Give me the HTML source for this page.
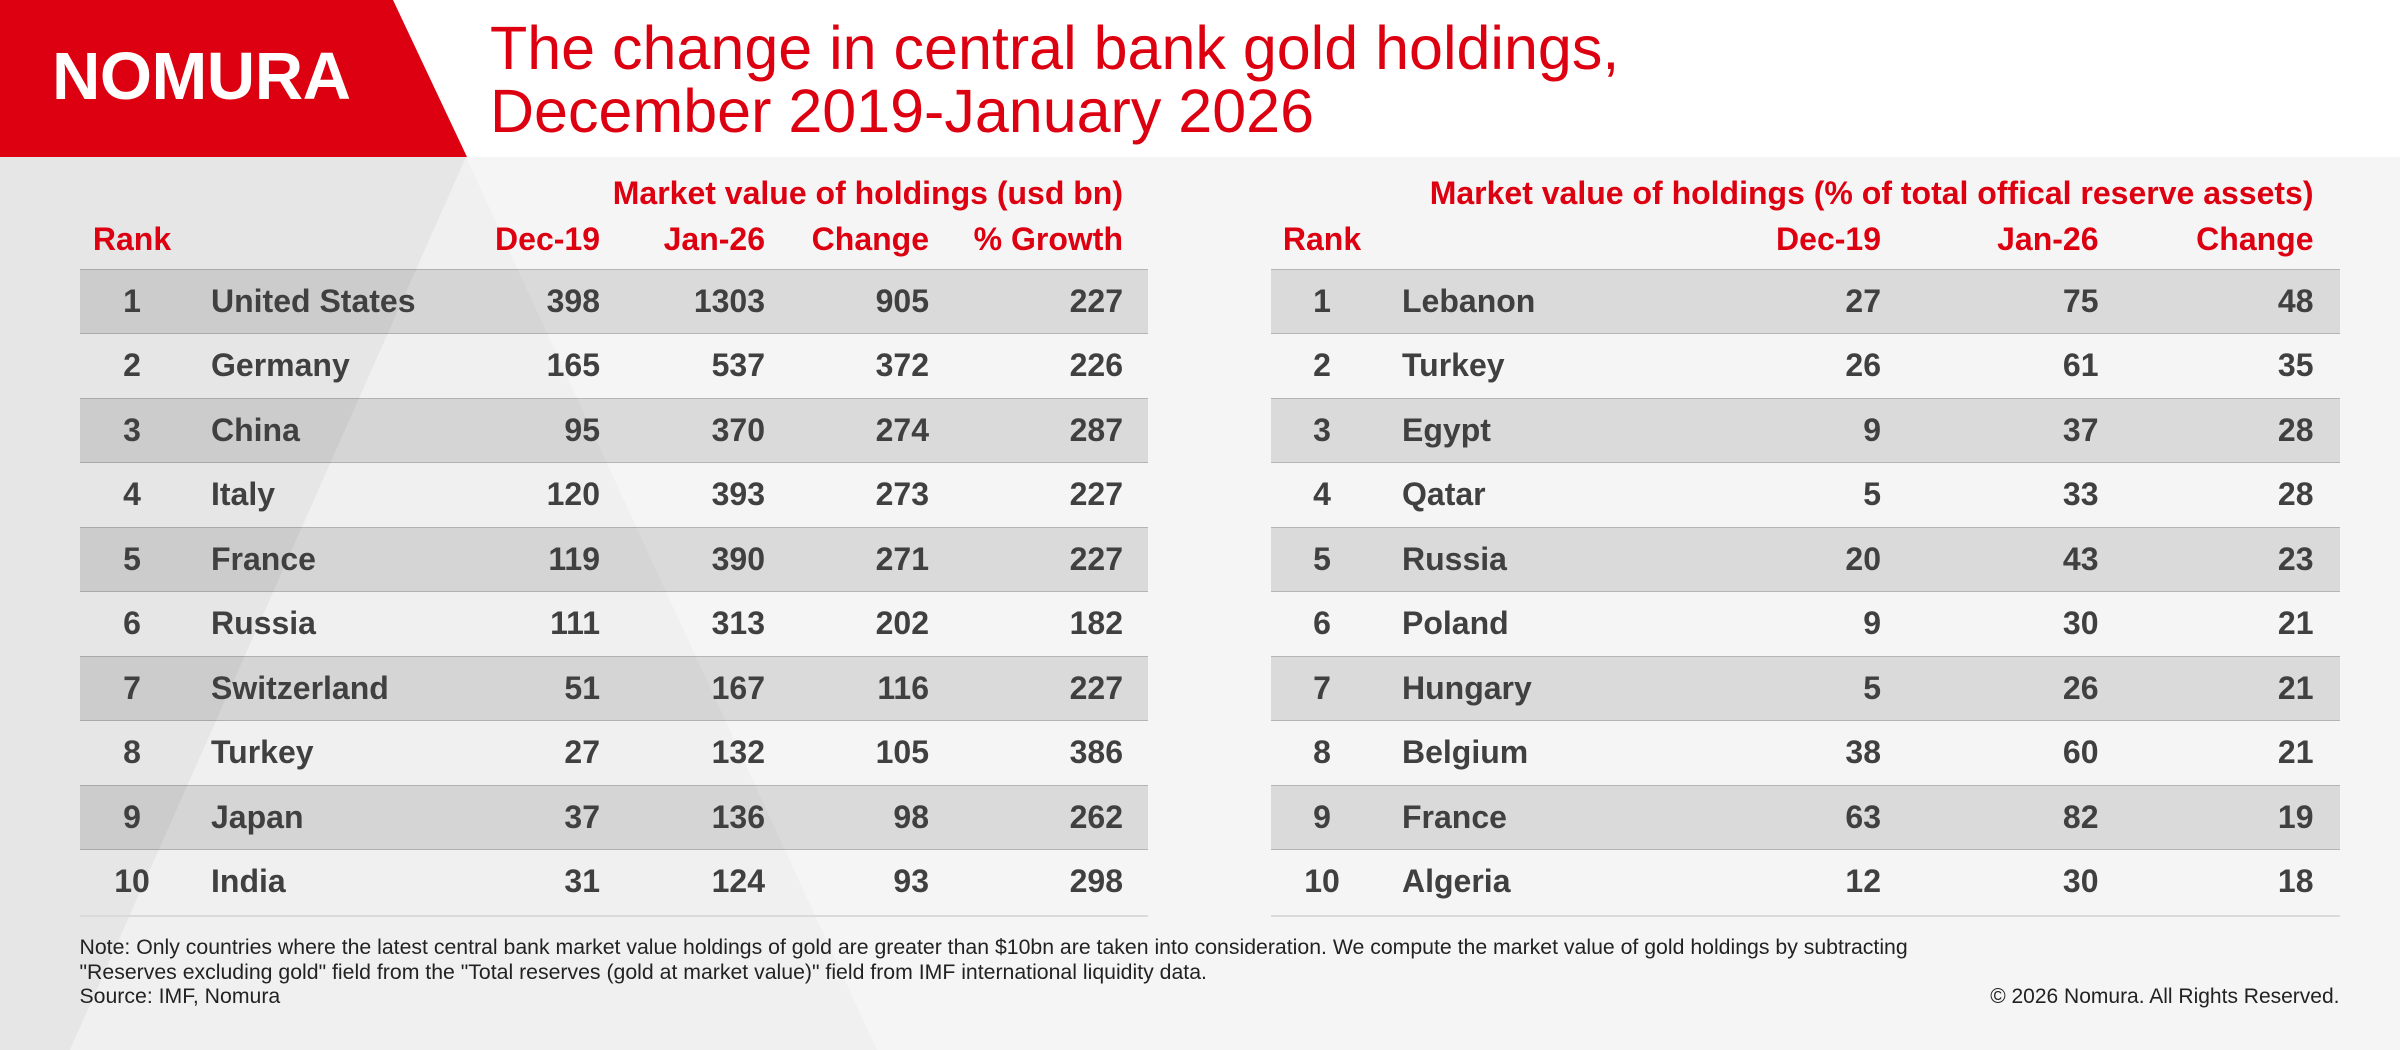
<!DOCTYPE html>
<html><head><meta charset="utf-8">
<style>
*{margin:0;padding:0;box-sizing:border-box}
html,body{width:2400px;height:1050px;overflow:hidden;background:#f5f5f5}
body{position:relative;font-family:"Liberation Sans",Arial,sans-serif}
.abs{position:absolute;white-space:nowrap}
.title{left:490px;top:17px;font-size:61px;line-height:63.3px;color:#dd0010;font-weight:normal}
.logo{left:52px;top:43px;font-size:67px;line-height:67px;color:#fff;font-weight:bold;letter-spacing:-0.5px}
.h{font-size:32px;line-height:32px;color:#dd0010;font-weight:bold}
.row{position:absolute;height:64.5px}
.row.d{background:rgba(0,0,0,0.11);border-top:1.5px solid rgba(0,0,0,0.17);border-bottom:1.5px solid rgba(0,0,0,0.17)}
.row span{position:absolute;top:0;font-size:32px;line-height:63px;font-weight:bold;color:#404040;white-space:nowrap}
.row .rk{width:80px;text-align:center}
.row .r{text-align:right}
.bot{position:absolute;height:2px;background:#dadada}
.note{left:79.5px;top:935px;font-size:21.25px;line-height:24.7px;color:#222}
.copy{right:60.5px;top:985px;font-size:21px;line-height:24.7px;color:#222}
</style></head><body>
<svg class="abs" style="left:0;top:0" width="2400" height="1050" viewBox="0 0 2400 1050">
<rect width="2400" height="1050" fill="#f5f5f5"/>
<rect width="2400" height="157" fill="#ffffff"/>
<polygon points="0,157 467,157 70,1050 0,1050" fill="#e6e6e6"/>
<polygon points="466,157 70,1050 877,1050" fill="#f0f0f0"/>
<polygon points="0,0 393,0 467,157 0,157" fill="#dd0010"/>
</svg>

<div class="abs logo">NOMURA</div>
<div class="abs title">The change in central bank gold holdings,<br>December 2019-January 2026</div>

<!-- Left table headers -->
<div class="abs h" style="right:1277px;top:176.5px">Market value of holdings (usd bn)</div>
<div class="abs h" style="left:92px;width:80px;text-align:center;top:223px">Rank</div>
<div class="abs h" style="right:1800px;top:223px">Dec-19</div>
<div class="abs h" style="right:1635px;top:223px">Jan-26</div>
<div class="abs h" style="right:1471px;top:223px">Change</div>
<div class="abs h" style="right:1277px;top:223px">% Growth</div>

<!-- Right table headers -->
<div class="abs h" style="right:86.5px;top:176.5px">Market value of holdings (% of total offical reserve assets)</div>
<div class="abs h" style="left:1282px;width:80px;text-align:center;top:223px">Rank</div>
<div class="abs h" style="right:519px;top:223px">Dec-19</div>
<div class="abs h" style="right:301.5px;top:223px">Jan-26</div>
<div class="abs h" style="right:86.5px;top:223px">Change</div>

<!-- Left table rows (left 80, width 1068) -->
<div class="row d" style="left:80px;width:1068px;top:269px"><span class="rk" style="left:12px">1</span><span style="left:131px">United States</span><span class="r" style="right:548px">398</span><span class="r" style="right:383px">1303</span><span class="r" style="right:219px">905</span><span class="r" style="right:25px">227</span></div>
<div class="row" style="left:80px;width:1068px;top:333.5px"><span class="rk" style="left:12px">2</span><span style="left:131px">Germany</span><span class="r" style="right:548px">165</span><span class="r" style="right:383px">537</span><span class="r" style="right:219px">372</span><span class="r" style="right:25px">226</span></div>
<div class="row d" style="left:80px;width:1068px;top:398px"><span class="rk" style="left:12px">3</span><span style="left:131px">China</span><span class="r" style="right:548px">95</span><span class="r" style="right:383px">370</span><span class="r" style="right:219px">274</span><span class="r" style="right:25px">287</span></div>
<div class="row" style="left:80px;width:1068px;top:462.5px"><span class="rk" style="left:12px">4</span><span style="left:131px">Italy</span><span class="r" style="right:548px">120</span><span class="r" style="right:383px">393</span><span class="r" style="right:219px">273</span><span class="r" style="right:25px">227</span></div>
<div class="row d" style="left:80px;width:1068px;top:527px"><span class="rk" style="left:12px">5</span><span style="left:131px">France</span><span class="r" style="right:548px">119</span><span class="r" style="right:383px">390</span><span class="r" style="right:219px">271</span><span class="r" style="right:25px">227</span></div>
<div class="row" style="left:80px;width:1068px;top:591.5px"><span class="rk" style="left:12px">6</span><span style="left:131px">Russia</span><span class="r" style="right:548px">111</span><span class="r" style="right:383px">313</span><span class="r" style="right:219px">202</span><span class="r" style="right:25px">182</span></div>
<div class="row d" style="left:80px;width:1068px;top:656px"><span class="rk" style="left:12px">7</span><span style="left:131px">Switzerland</span><span class="r" style="right:548px">51</span><span class="r" style="right:383px">167</span><span class="r" style="right:219px">116</span><span class="r" style="right:25px">227</span></div>
<div class="row" style="left:80px;width:1068px;top:720.5px"><span class="rk" style="left:12px">8</span><span style="left:131px">Turkey</span><span class="r" style="right:548px">27</span><span class="r" style="right:383px">132</span><span class="r" style="right:219px">105</span><span class="r" style="right:25px">386</span></div>
<div class="row d" style="left:80px;width:1068px;top:785px"><span class="rk" style="left:12px">9</span><span style="left:131px">Japan</span><span class="r" style="right:548px">37</span><span class="r" style="right:383px">136</span><span class="r" style="right:219px">98</span><span class="r" style="right:25px">262</span></div>
<div class="row" style="left:80px;width:1068px;top:849.5px"><span class="rk" style="left:12px">10</span><span style="left:131px">India</span><span class="r" style="right:548px">31</span><span class="r" style="right:383px">124</span><span class="r" style="right:219px">93</span><span class="r" style="right:25px">298</span></div>
<div class="bot" style="left:80px;width:1068px;top:915px"></div>

<!-- Right table rows (left 1271, width 1068.5) -->
<div class="row d" style="left:1271px;width:1068.5px;top:269px"><span class="rk" style="left:11px">1</span><span style="left:131px">Lebanon</span><span class="r" style="right:458.5px">27</span><span class="r" style="right:241px">75</span><span class="r" style="right:26px">48</span></div>
<div class="row" style="left:1271px;width:1068.5px;top:333.5px"><span class="rk" style="left:11px">2</span><span style="left:131px">Turkey</span><span class="r" style="right:458.5px">26</span><span class="r" style="right:241px">61</span><span class="r" style="right:26px">35</span></div>
<div class="row d" style="left:1271px;width:1068.5px;top:398px"><span class="rk" style="left:11px">3</span><span style="left:131px">Egypt</span><span class="r" style="right:458.5px">9</span><span class="r" style="right:241px">37</span><span class="r" style="right:26px">28</span></div>
<div class="row" style="left:1271px;width:1068.5px;top:462.5px"><span class="rk" style="left:11px">4</span><span style="left:131px">Qatar</span><span class="r" style="right:458.5px">5</span><span class="r" style="right:241px">33</span><span class="r" style="right:26px">28</span></div>
<div class="row d" style="left:1271px;width:1068.5px;top:527px"><span class="rk" style="left:11px">5</span><span style="left:131px">Russia</span><span class="r" style="right:458.5px">20</span><span class="r" style="right:241px">43</span><span class="r" style="right:26px">23</span></div>
<div class="row" style="left:1271px;width:1068.5px;top:591.5px"><span class="rk" style="left:11px">6</span><span style="left:131px">Poland</span><span class="r" style="right:458.5px">9</span><span class="r" style="right:241px">30</span><span class="r" style="right:26px">21</span></div>
<div class="row d" style="left:1271px;width:1068.5px;top:656px"><span class="rk" style="left:11px">7</span><span style="left:131px">Hungary</span><span class="r" style="right:458.5px">5</span><span class="r" style="right:241px">26</span><span class="r" style="right:26px">21</span></div>
<div class="row" style="left:1271px;width:1068.5px;top:720.5px"><span class="rk" style="left:11px">8</span><span style="left:131px">Belgium</span><span class="r" style="right:458.5px">38</span><span class="r" style="right:241px">60</span><span class="r" style="right:26px">21</span></div>
<div class="row d" style="left:1271px;width:1068.5px;top:785px"><span class="rk" style="left:11px">9</span><span style="left:131px">France</span><span class="r" style="right:458.5px">63</span><span class="r" style="right:241px">82</span><span class="r" style="right:26px">19</span></div>
<div class="row" style="left:1271px;width:1068.5px;top:849.5px"><span class="rk" style="left:11px">10</span><span style="left:131px">Algeria</span><span class="r" style="right:458.5px">12</span><span class="r" style="right:241px">30</span><span class="r" style="right:26px">18</span></div>
<div class="bot" style="left:1271px;width:1068.5px;top:915px"></div>

<div class="abs note">Note: Only countries where the latest central bank market value holdings of gold are greater than $10bn are taken into consideration. We compute the market value of gold holdings by subtracting<br>"Reserves excluding gold" field from the "Total reserves (gold at market value)" field from IMF international liquidity data.<br>Source: IMF, Nomura</div>
<div class="abs copy">© 2026 Nomura. All Rights Reserved.</div>
</body></html>
